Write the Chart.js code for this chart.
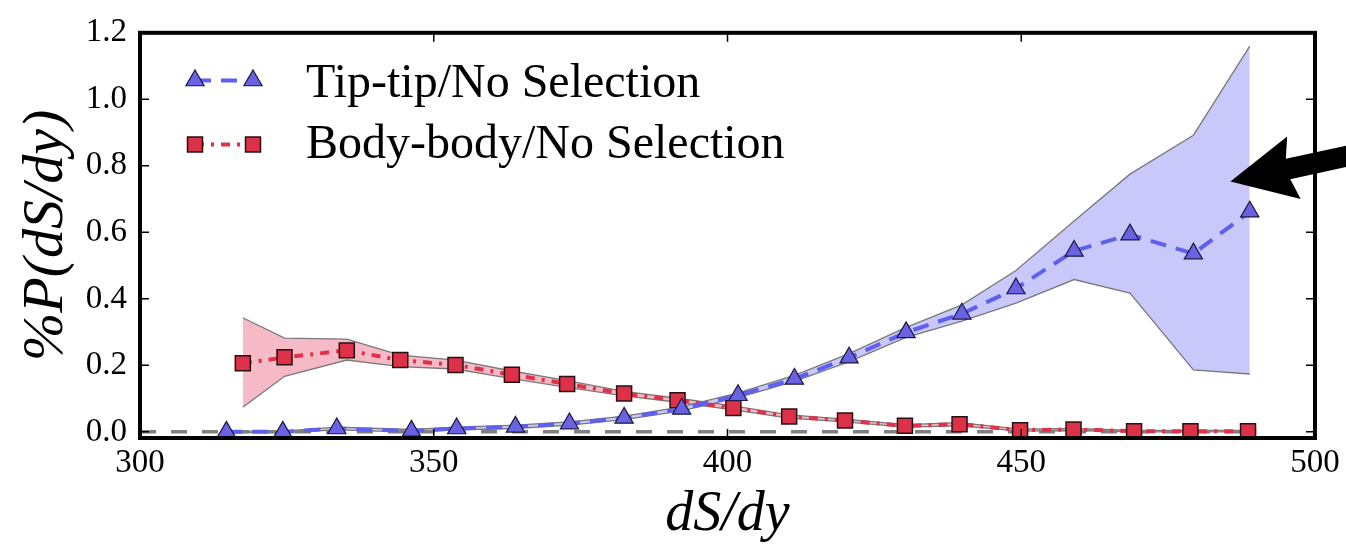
<!DOCTYPE html>
<html>
<head>
<meta charset="utf-8">
<script src="https://cdn.jsdelivr.net/npm/chart.js@4.4.1/dist/chart.umd.min.js"></script>
<style>
  html, body { margin: 0; padding: 0; background: #ffffff; }
  #wrap { width: 1346px; height: 545px; position: relative; }
</style>
</head>
<body>
<div id="wrap"><canvas id="c"></canvas></div>
<script>
// ---- data: percentage change of P(dS/dy) relative to "No Selection" ----
const tipX     = [314.7, 324.3, 333.5, 346.2, 353.9, 363.9, 373.1, 382.4, 392.2, 401.8, 411.4, 420.7, 430.4, 439.9, 449.1, 459.0, 468.5, 479.3, 488.9];
const tipY     = [0.000, 0.000, 0.010, 0.003, 0.010, 0.015, 0.025, 0.042, 0.069, 0.110, 0.159, 0.223, 0.299, 0.355, 0.431, 0.544, 0.593, 0.536, 0.662];
const tipHigh  = [0.002, 0.002, 0.014, 0.007, 0.014, 0.020, 0.030, 0.047, 0.075, 0.117, 0.170, 0.235, 0.314, 0.382, 0.485, 0.634, 0.775, 0.892, 1.160];
const tipLow   = [-0.002, -0.002, 0.006, -0.001, 0.006, 0.010, 0.020, 0.037, 0.063, 0.103, 0.152, 0.211, 0.284, 0.333, 0.387, 0.458, 0.417, 0.186, 0.174];

const bodyX    = [317.5, 324.6, 335.2, 344.3, 353.7, 363.3, 372.7, 382.4, 391.5, 401.0, 410.5, 420.0, 430.2, 439.5, 449.8, 458.9, 469.2, 478.8, 488.6];
const bodyY    = [0.206, 0.224, 0.245, 0.216, 0.201, 0.172, 0.144, 0.115, 0.095, 0.072, 0.046, 0.034, 0.018, 0.023, 0.005, 0.007, 0.002, 0.002, 0.002];
const bodyHigh = [0.343, 0.282, 0.279, 0.231, 0.216, 0.183, 0.154, 0.122, 0.101, 0.078, 0.051, 0.038, 0.022, 0.028, 0.008, 0.010, 0.004, 0.004, 0.004];
const bodyLow  = [0.074, 0.167, 0.216, 0.196, 0.189, 0.160, 0.134, 0.108, 0.089, 0.066, 0.041, 0.030, 0.014, 0.018, 0.002, 0.004, 0.000, 0.000, 0.000];

// zero reference line extent
const zeroLineX = [300, 490];

// axis ticks
const xTickValues = [300, 350, 400, 450, 500];
const yTickValues = [0.0, 0.2, 0.4, 0.6, 0.8, 1.0, 1.2];

// labels
const seriesNames = ['Tip-tip/No Selection', 'Body-body/No Selection'];
const xTitle = 'dS/dy';
const yTitle = '%P(dS/dy)';

// annotation arrow (data units)
const arrowTip  = [485.6, 0.753];
const arrowTail = [507.0, 0.835];

// ---- helpers ----
const pts = (xs, ys) => xs.map((x, i) => ({ x: x, y: ys[i] }));

const BLUE_LINE = '#5f5ff0';
const BLUE_MARK = '#6a62e2';
const BLUE_BAND = '#c9c8fb';
const RED_LINE  = '#e0304c';
const RED_MARK  = '#dc3148';
const RED_BAND  = '#f6b9c6';
const EDGE      = '#7a7a7a';

const serif = '"Liberation Serif", "Times New Roman", serif';

const datasets = [
  { // 0 tip-tip mean
    label: seriesNames[0],
    data: pts(tipX, tipY),
    borderColor: BLUE_LINE, borderWidth: 4, borderDash: [16, 10],
    pointStyle: 'triangle', pointRadius: 10.5,
    pointBackgroundColor: BLUE_MARK, pointBorderColor: '#1a1a40', pointBorderWidth: 1.2,
    fill: false, order: 0
  },
  { // 1 body-body mean
    label: seriesNames[1],
    data: pts(bodyX, bodyY),
    borderColor: RED_LINE, borderWidth: 4, borderDash: [9, 7, 3, 7],
    pointStyle: 'rect', pointRadius: 10.6,
    pointBackgroundColor: RED_MARK, pointBorderColor: '#2a1010', pointBorderWidth: 1.5,
    fill: false, order: 1
  },
  { // 2 zero reference
    label: 'zero',
    data: zeroLineX.map(x => ({ x: x, y: 0 })),
    borderColor: '#808080', borderWidth: 3.5, borderDash: [16, 15],
    pointRadius: 0, fill: false, order: 2
  },
  { // 3 tip-tip lower band edge
    label: 'tipLow', data: pts(tipX, tipLow),
    borderColor: EDGE, borderWidth: 1.3, pointRadius: 0, fill: false, order: 3
  },
  { // 4 tip-tip upper band edge, filled down to lower edge
    label: 'tipHigh', data: pts(tipX, tipHigh),
    borderColor: EDGE, borderWidth: 1.3, pointRadius: 0,
    fill: '-1', backgroundColor: BLUE_BAND, order: 4
  },
  { // 5 body-body lower band edge
    label: 'bodyLow', data: pts(bodyX, bodyLow),
    borderColor: EDGE, borderWidth: 1.3, pointRadius: 0, fill: false, order: 5
  },
  { // 6 body-body upper band edge
    label: 'bodyHigh', data: pts(bodyX, bodyHigh),
    borderColor: EDGE, borderWidth: 1.3, pointRadius: 0,
    fill: '-1', backgroundColor: RED_BAND, order: 6
  }
];

// frame, inward ticks, legend and arrow
const decorations = {
  id: 'decorations',
  afterDraw(chart) {
    const ctx = chart.ctx;
    const a = chart.chartArea;
    const xs = chart.scales.x, ys = chart.scales.y;
    ctx.save();

    // inward tick marks on all four sides
    ctx.strokeStyle = '#000'; ctx.lineWidth = 1.5; ctx.setLineDash([]);
    const tl = 9;
    xTickValues.forEach(v => {
      const px = xs.getPixelForValue(v);
      ctx.beginPath();
      ctx.moveTo(px, a.bottom); ctx.lineTo(px, a.bottom - tl);
      ctx.moveTo(px, a.top); ctx.lineTo(px, a.top + tl);
      ctx.stroke();
    });
    yTickValues.forEach(v => {
      const py = ys.getPixelForValue(v);
      ctx.beginPath();
      ctx.moveTo(a.left, py); ctx.lineTo(a.left + tl, py);
      ctx.moveTo(a.right, py); ctx.lineTo(a.right - tl, py);
      ctx.stroke();
    });

    // axes frame
    ctx.lineWidth = 4;
    ctx.strokeRect(a.left, a.top, a.right - a.left, a.bottom - a.top);

    // legend: two markers joined by the series line style
    const rows = [
      { ds: chart.data.datasets[0], y: 80.5, base: 97 },
      { ds: chart.data.datasets[1], y: 144.5, base: 158 }
    ];
    const mx1 = 195, mx2 = 253, textX = 306;
    rows.forEach(r => {
      const ds = r.ds;
      ctx.save();
      ctx.strokeStyle = ds.borderColor; ctx.lineWidth = ds.borderWidth;
      ctx.setLineDash(ds.borderDash);
      ctx.beginPath(); ctx.moveTo(mx1, r.y); ctx.lineTo(mx2, r.y); ctx.stroke();
      ctx.restore();
      [mx1, mx2].forEach(mx => {
        ctx.save();
        ctx.fillStyle = ds.pointBackgroundColor;
        ctx.strokeStyle = ds.pointBorderColor;
        ctx.lineWidth = ds.pointBorderWidth;
        ctx.setLineDash([]);
        Chart.helpers.drawPoint(ctx, {
          pointStyle: ds.pointStyle, radius: ds.pointRadius, rotation: 0,
          borderWidth: ds.pointBorderWidth
        }, mx, r.y);
        ctx.restore();
      });
      ctx.fillStyle = '#000';
      ctx.font = '48px ' + serif;
      ctx.textBaseline = 'alphabetic';
      ctx.textAlign = 'left';
      ctx.fillText(ds.label, textX, r.base);
    });

    // annotation arrow pointing at the widening band
    const tx = xs.getPixelForValue(arrowTip[0]), ty = ys.getPixelForValue(arrowTip[1]);
    const ex = xs.getPixelForValue(arrowTail[0]), ey = ys.getPixelForValue(arrowTail[1]);
    const ang = Math.atan2(ey - ty, ex - tx);
    const ux = Math.cos(ang), uy = Math.sin(ang);
    const nx = -uy, ny = ux;
    const headLen = 65, headHalf = 32, shaftHalf = 10.5;
    const bx = tx + ux * headLen, by = ty + uy * headLen;
    ctx.fillStyle = '#000';
    ctx.beginPath();
    ctx.moveTo(tx, ty);
    ctx.lineTo(bx + nx * headHalf, by + ny * headHalf);
    ctx.lineTo(bx - ux * 6 + nx * shaftHalf, by - uy * 6 + ny * shaftHalf);
    ctx.lineTo(ex + nx * shaftHalf, ey + ny * shaftHalf);
    ctx.lineTo(ex - nx * shaftHalf, ey - ny * shaftHalf);
    ctx.lineTo(bx - ux * 6 - nx * shaftHalf, by - uy * 6 - ny * shaftHalf);
    ctx.lineTo(bx - nx * headHalf, by - ny * headHalf);
    ctx.closePath();
    ctx.fill();

    ctx.restore();
  }
};

new Chart(document.getElementById('c'), {
  type: 'line',
  data: { datasets: datasets },
  options: {
    responsive: true,
    maintainAspectRatio: false,
    animation: false,
    events: [],
    layout: { padding: { top: 24, right: 31, left: 0, bottom: 0 } },
    plugins: {
      legend: { display: false },
      tooltip: { enabled: false },
      filler: { propagate: false }
    },
    scales: {
      x: {
        type: 'linear', min: 300, max: 500,
        grid: { display: false, drawTicks: false },
        border: { display: false },
        afterBuildTicks: s => { s.ticks = xTickValues.map(v => ({ value: v })); },
        afterFit: s => { s.height = 107; },
        ticks: {
          padding: 6, color: '#000', maxRotation: 0, autoSkip: false,
          font: { family: serif, size: 33 },
          callback: v => String(v)
        },
        title: {
          display: true, text: xTitle, color: '#000',
          font: { family: serif, size: 56, style: 'italic', lineHeight: 1 },
          padding: { top: 0, bottom: 2 }
        }
      },
      y: {
        type: 'linear', min: -0.0185, max: 1.2,
        grid: { display: false, drawTicks: false },
        border: { display: false },
        afterBuildTicks: s => { s.ticks = yTickValues.map(v => ({ value: v })); },
        afterFit: s => { s.width = 140; },
        ticks: {
          padding: 13, color: '#000',
          font: { family: serif, size: 33 },
          callback: v => Number(v).toFixed(1)
        },
        title: {
          display: true, text: yTitle, color: '#000',
          font: { family: serif, size: 58, style: 'italic', lineHeight: 1 },
          padding: { top: 18, bottom: 0 }
        }
      }
    }
  },
  plugins: [decorations]
});
</script>
</body>
</html>
